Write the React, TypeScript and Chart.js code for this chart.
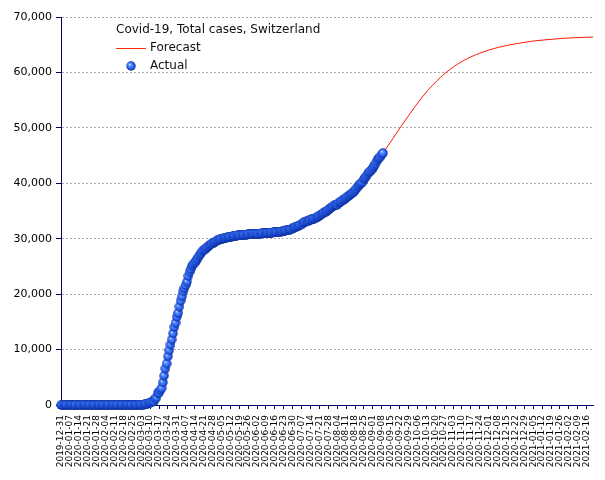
import React, { useEffect, useRef } from 'react';
import { Chart, registerables } from 'chart.js';

Chart.register(...registerables);

const TITLE = 'Covid-19, Total cases, Switzerland';
const SERIES_FORECAST = 'Forecast';
const SERIES_ACTUAL = 'Actual';

// weekly tick labels (every 7th day, day 0 = 2019-12-31)
const tickLabels = [
  '2019-12-31', '2020-01-07', '2020-01-14', '2020-01-21', '2020-01-28', '2020-02-04', '2020-02-11',
  '2020-02-18', '2020-02-25', '2020-03-03', '2020-03-10', '2020-03-17', '2020-03-24', '2020-03-31',
  '2020-04-07', '2020-04-14', '2020-04-21', '2020-04-28', '2020-05-05', '2020-05-12', '2020-05-19',
  '2020-05-26', '2020-06-02', '2020-06-09', '2020-06-16', '2020-06-23', '2020-06-30', '2020-07-07',
  '2020-07-14', '2020-07-21', '2020-07-28', '2020-08-04', '2020-08-11', '2020-08-18', '2020-08-25',
  '2020-09-01', '2020-09-08', '2020-09-15', '2020-09-22', '2020-09-29', '2020-10-06', '2020-10-13',
  '2020-10-20', '2020-10-27', '2020-11-03', '2020-11-10', '2020-11-17', '2020-11-24', '2020-12-01',
  '2020-12-08', '2020-12-15', '2020-12-22', '2020-12-29', '2021-01-05', '2021-01-12', '2021-01-19',
  '2021-01-26', '2021-02-02', '2021-02-09', '2021-02-16',
];

const DAY_MAX = 418;
const Y_MAX = 70000;
const Y_STEP = 10000;

// daily actual totals starting 2019-12-31 (day 0)
const actualValues = [
  0, 0, 0, 0, 0, 0, 0, 0, 0, 0, 0, 0, 0, 0, 0, 0, 0, 0, 0, 0,
  0, 0, 0, 0, 0, 0, 0, 0, 0, 0, 0, 0, 0, 0, 0, 0, 0, 0, 0, 0,
  0, 0, 0, 0, 0, 0, 0, 0, 0, 0, 0, 0, 0, 0, 0, 0, 0,
  1, 1, 8, 8, 18,
  27, 42, 56, 90, 114, 214, 268, 337, 374, 491, 652, 652, 1139, 1359, 2200, 2200, 2700, 3028, 4075, 5294,
  6575, 7474, 8795, 9877, 10897, 11811, 12928, 14076, 14829, 15922, 16605,
  17768, 18827, 19606, 20505, 21100, 21657, 22253, 23280, 24051, 24551, 25107, 25415, 25688, 25936, 26336,
  26732, 27078, 27404, 27740, 27944, 28063, 28268, 28496, 28677, 28894, 29061, 29164, 29264, 29407, 29586,
  29705, 29817, 29905, 29981, 30009, 30060, 30126, 30207, 30251, 30305, 30344, 30380, 30413, 30463, 30514,
  30572, 30587, 30597, 30618, 30658, 30694, 30707, 30725, 30746, 30761, 30776, 30796, 30828, 30845, 30862, 30871,
  30874, 30893, 30913, 30936, 30956, 30965, 30972, 30988, 31011, 31044, 31063, 31094, 31117, 31131, 31154,
  31187, 31200, 31235, 31243, 31292, 31310, 31376, 31428, 31486, 31555, 31617, 31652, 31714, 31851, 31967,
  32101, 32198, 32315, 32369, 32498, 32586, 32817, 32946, 33016, 33148, 33148, 33290, 33382, 33492, 33591,
  33634, 33742, 33883, 34000, 34154, 34302, 34477, 34609, 34802, 34802, 35000, 35232, 35412, 35616, 35746, 35927,
  36108, 36108, 36108, 36451, 36603, 36708, 36895, 37046, 37169, 37403, 37604, 37746, 37924, 38124, 38252,
  38449, 38760, 39026, 39330, 39627, 39903, 40060, 40262, 40767, 41008, 41346, 41722, 42014, 42177, 42420, 42763,
  43127, 43532, 43957, 44401, 44592, 44837, 45206, 45460,
];

// forecast: day index and total
const forecastDays = [
  253, 260, 267, 274, 281, 288, 295, 302, 309, 316, 323, 330, 337, 344, 351, 358, 365, 372, 379, 386,
  393, 400, 407, 414, 418,
];
const forecastValues = [
  45460, 47800, 50200, 52500, 54700, 56700, 58400, 59900, 61100, 62100, 62900, 63550, 64100, 64550, 64900,
  65200, 65450, 65700, 65850, 65980, 66130, 66220, 66300, 66350, 66380,
];

function makeBall(): HTMLCanvasElement {
  const c = document.createElement('canvas');
  c.width = 10;
  c.height = 10;
  const g = c.getContext('2d')!;
  const grad = g.createRadialGradient(3.6, 3.4, 0.2, 5, 5, 5);
  grad.addColorStop(0, '#d0e2ff');
  grad.addColorStop(0.25, '#5a90ff');
  grad.addColorStop(0.65, '#2a62f0');
  grad.addColorStop(1, '#001c86');
  g.fillStyle = grad;
  g.beginPath();
  g.arc(5, 5, 4.7, 0, Math.PI * 2);
  g.fill();
  return c;
}

export default function App() {
  const ref = useRef<HTMLCanvasElement>(null);

  useEffect(() => {
    document.body.style.margin = '0';
    const ball = makeBall();
    const font = '"DejaVu Sans", sans-serif';
    const navy = '#000066';

    const legendPlugin = {
      id: 'insideLegend',
      afterDraw(chart: any) {
        const ctx = chart.ctx;
        ctx.save();
        ctx.fillStyle = '#111';
        ctx.font = `12px ${font}`;
        ctx.textBaseline = 'middle';
        ctx.textAlign = 'left';
        ctx.fillText(TITLE, 116, 30);
        ctx.strokeStyle = '#ff2a00';
        ctx.lineWidth = 1;
        ctx.beginPath();
        ctx.moveTo(116, 48.5);
        ctx.lineTo(146, 48.5);
        ctx.stroke();
        ctx.fillText(SERIES_FORECAST, 150, 48);
        ctx.drawImage(ball, 126, 61);
        ctx.fillText(SERIES_ACTUAL, 150, 66);
        ctx.restore();
      },
    };

    const chart = new Chart(ref.current!, {
      type: 'line',
      data: {
        datasets: [
          {
            label: SERIES_ACTUAL,
            data: actualValues.map((v, i) => ({ x: i, y: v })),
            showLine: false,
            pointStyle: ball as any,
            pointRadius: 4,
            clip: false as any,
            order: 0,
          },
          {
            label: SERIES_FORECAST,
            data: forecastDays.map((d, i) => ({ x: d, y: forecastValues[i] })),
            borderColor: '#ff1a00',
            borderWidth: 1,
            pointRadius: 0,
            cubicInterpolationMode: 'monotone',
            order: 1,
          },
        ],
      },
      options: {
        responsive: false,
        animation: false,
        devicePixelRatio: 1,
        layout: { padding: { top: 17, right: 12, left: 0, bottom: 0 } },
        plugins: { legend: { display: false }, tooltip: { enabled: false } },
        scales: {
          x: {
            type: 'linear',
            min: 0,
            max: DAY_MAX,
            afterFit: (s: any) => {
              s.height = 75;
            },
            afterBuildTicks: (s: any) => {
              s.ticks = tickLabels.map((_, i) => ({ value: i * 7 }));
            },
            ticks: {
              autoSkip: false,
              maxRotation: 90,
              minRotation: 90,
              padding: 6,
              color: '#000',
              font: { family: font, size: 9 },
              callback: (v: any) => tickLabels[Math.round(v / 7)] ?? '',
            },
            grid: { drawOnChartArea: false, drawTicks: true, tickLength: 4, tickColor: navy, color: navy },
            border: { color: navy, width: 1 },
          },
          y: {
            min: 0,
            max: Y_MAX,
            afterFit: (s: any) => {
              s.width = 61;
            },
            ticks: {
              stepSize: Y_STEP,
              padding: 4,
              color: '#000',
              font: { family: font, size: 11 },
              callback: (v: any) => Number(v).toLocaleString('en-US'),
            },
            grid: {
              color: (c: any) => (c.tick && c.tick.value === 0 ? 'rgba(0,0,0,0)' : '#a8a8a8'),
              tickColor: navy,
              tickLength: 5,
            },
            border: { color: navy, width: 1, dash: [2, 2] },
          },
        },
      } as any,
      plugins: [legendPlugin],
    });
    return () => chart.destroy();
  }, []);

  return <canvas ref={ref} width={605} height={480} style={{ display: 'block' }} />;
}
